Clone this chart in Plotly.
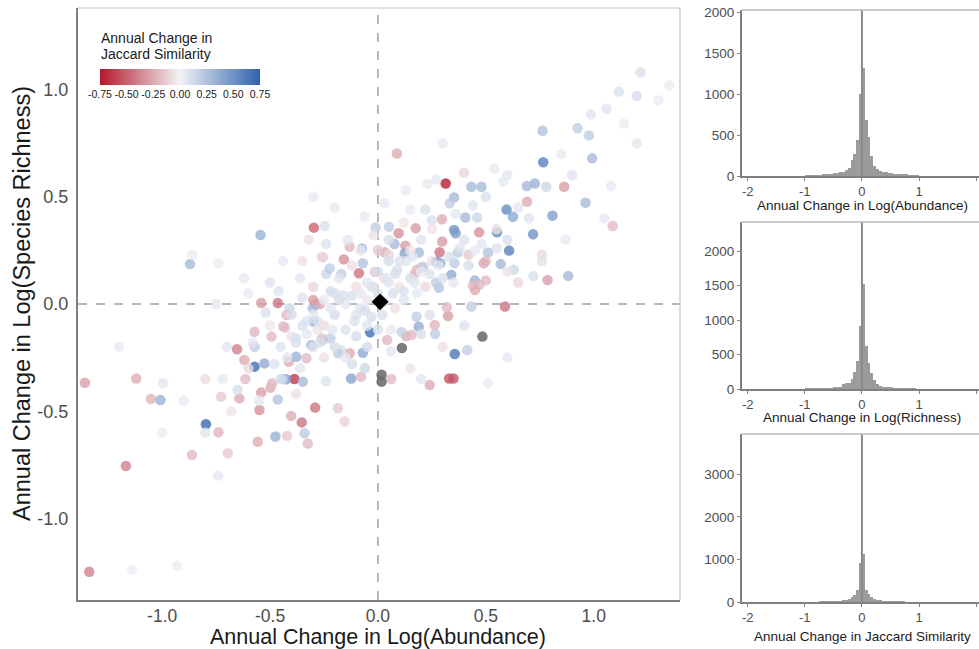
import plotly.graph_objects as go

# ---------------- main scatter data ----------------
abund_change = [
    -1.338, -1.358, -1.168, -1.120, -1.052, -1.008, -0.996, -0.797, -0.862, -0.739,
    -0.696, -0.727, -0.642, -0.719, -0.653, -0.619, -0.572, -0.526, -0.614, -0.572,
    -0.541, -0.549, -0.557, -0.475, -0.464, -0.498, -0.421, -0.402, -0.387, -0.425,
    -0.440, -0.353, -0.291, -0.325, -0.340, -0.348, -0.413, -0.379, -0.309, -0.298,
    -0.186, -0.155, -0.124, -0.078, -0.070, -0.036, -0.170, -0.255, 0.062, 0.043,
    0.189, 0.240, 0.325, 0.330, 0.350, 0.356, 0.414, 0.263, 0.131, 0.110,
    -0.464, -0.541, -0.290, -0.268, 0.433, -0.297, -0.247, -0.544, -0.871, -0.860,
    -0.740, -0.062, -0.011, -0.131, -0.074, -0.158, -0.088, -0.070, -0.255, -0.240,
    -0.170, -0.015, -0.440, -0.620, -0.302, -0.430, -0.410, 0.088, 0.314, 0.399,
    0.230, 0.270, 0.130, 0.030, 0.433, 0.480, 0.353, 0.333, 0.539, 0.580,
    0.763, 0.766, 0.925, 0.978, 0.993, 0.987, 1.060, 1.117, 1.199, 1.217,
    1.350, 1.080, 1.140, 0.863, 0.962, 1.088, 0.727, 0.690, 0.780, 0.596,
    0.626, 0.691, 0.809, 0.719, 0.552, 0.608, 0.469, 0.353, 0.360, 0.405,
    0.460, 0.297, 0.175, 0.096, 0.051, 0.077, 0.127, 0.124, 0.190, 0.298,
    0.286, 0.271, 0.290, 0.340, 0.355, 0.449, 0.440, 0.470, 0.283, 0.031,
    0.170, 0.200, 0.370, 0.420, 0.510, 0.500, 0.490, 0.569, 0.630, 0.650,
    0.720, 0.786, 0.882, 0.589, 0.870, 0.760, 0.760, 0.150, 0.250, 0.510,
    0.156, 0.060, 0.200, 0.265, 0.319, 0.000, 0.050, -0.223, -0.260, 0.210,
    0.180, 0.450, 0.500, 0.270, -0.300, -0.424, -0.571, -0.493, -0.439, -0.331,
    -0.260, -0.220, -0.184, -0.130, -0.060, -0.490, 0.179,
    # faint cloud
    -0.45, -0.40, -0.35, -0.30, -0.25, -0.20, -0.15, -0.10, -0.05, 0.00,
    0.05, 0.10, 0.15, 0.20, 0.25, 0.10, 0.00, -0.05, -0.10, -0.20,
    -0.25, -0.30, -0.35, -0.40, -0.50, -0.15, -0.10, -0.05, 0.02, 0.08,
    0.12, 0.18, 0.22, 0.30, 0.35, 0.05, 0.15, 0.20, -0.20, -0.25,
    -0.30, -0.15, -0.05, 0.00, -0.12, -0.18, -0.08, 0.05, 0.25, 0.40,
    0.45, 0.55, 0.60, 0.65, 0.70, -0.60, -0.65, -0.55, -0.45, -0.38,
    -0.70, -0.80, -0.90, 0.50, 0.60, 0.85, 0.90, 0.30, 0.40, 0.60,
    -0.35, -0.50, -0.60, -0.75, -1.20, -1.00, -0.74, -0.93, -1.14, 0.20,
    0.15, 1.05, 1.20, 1.30, 0.30, -0.20, -0.30, -0.22, -0.12, -0.02,
    -0.33, 0.08, -0.28, -0.18, 0.12, -0.08, 0.03, -0.38, 0.16, -0.03,
    -0.08, -0.03, 0.04, 0.09, 0.13, -0.16, -0.22, -0.28, -0.33, -0.38,
    -0.42, -0.27, -0.21, -0.11, -0.06, 0.03, 0.07, 0.17, 0.24, 0.28,
    0.33, 0.38, 0.42, 0.48, 0.55, 0.36, 0.44, 0.22, -0.14, -0.24,
    -0.36, -0.46, -0.52, -0.58, -0.48, -0.36, -0.24, -0.12, 0.06, 0.24,
    -0.02, 0.12, -0.32, 0.60, -0.68, -0.80,
]
rich_change = [
    -1.248, -0.367, -0.755, -0.347, -0.443, -0.448, -0.368, -0.561, -0.704, -0.598,
    -0.696, -0.432, -0.440, -0.350, -0.211, -0.261, -0.292, -0.277, -0.350, -0.129,
    -0.413, -0.494, -0.642, -0.618, -0.445, -0.390, -0.615, -0.522, -0.350, -0.351,
    -0.350, -0.552, -0.483, -0.650, -0.603, -0.362, -0.269, -0.246, -0.191, -0.082,
    -0.486, -0.548, -0.347, -0.339, -0.227, -0.132, -0.215, -0.168, -0.350, -0.168,
    -0.106, -0.378, -0.056, -0.347, -0.347, -0.233, -0.215, -0.098, -0.149, -0.130,
    0.005, 0.005, 0.000, 0.000, -0.012, 0.356, 0.364, 0.322, 0.186, 0.230,
    0.190, 0.407, 0.357, 0.267, 0.259, 0.208, 0.143, 0.190, 0.218, 0.140,
    0.140, 0.150, 0.200, 0.120, -0.020, -0.110, -0.020, 0.702, 0.562, 0.612,
    0.560, 0.580, 0.530, 0.470, 0.547, 0.547, 0.497, 0.470, 0.630, 0.570,
    0.808, 0.661, 0.819, 0.786, 0.679, 0.884, 0.910, 0.990, 0.970, 1.080,
    1.020, 0.550, 0.840, 0.547, 0.472, 0.364, 0.562, 0.550, 0.547, 0.440,
    0.407, 0.477, 0.412, 0.325, 0.334, 0.249, 0.334, 0.345, 0.330, 0.403,
    0.403, 0.395, 0.353, 0.330, 0.360, 0.280, 0.272, 0.236, 0.240, 0.291,
    0.241, 0.197, 0.190, 0.135, 0.190, 0.109, 0.085, 0.090, 0.076, 0.241,
    0.140, 0.170, 0.240, 0.230, 0.240, 0.200, 0.190, 0.186, 0.160, 0.100,
    0.130, 0.112, 0.131, -0.012, 0.300, 0.200, 0.230, 0.440, 0.390, -0.370,
    -0.145, -0.120, -0.140, -0.140, -0.015, 0.252, 0.230, 0.166, 0.220, 0.174,
    0.160, 0.065, 0.110, 0.100, 0.019, -0.051, -0.199, -0.152, -0.105, -0.253,
    -0.160, -0.160, -0.230, -0.230, -0.300, -0.370, -0.059,
    # faint cloud
    -0.20, -0.15, -0.10, -0.05, -0.10, -0.05, 0.00, -0.05, 0.02, 0.05,
    0.10, 0.08, 0.12, 0.15, 0.20, 0.20, 0.15, 0.10, 0.08, 0.05,
    0.02, 0.08, 0.03, -0.05, -0.10, -0.12, -0.15, -0.10, -0.05, -0.02,
    0.02, 0.05, 0.08, 0.12, 0.10, 0.20, 0.25, 0.30, -0.20, -0.25,
    -0.20, -0.25, -0.20, -0.12, 0.18, 0.12, 0.25, 0.30, 0.35, 0.30,
    0.25, 0.35, 0.30, 0.45, 0.40, -0.30, -0.40, -0.45, -0.35, -0.42,
    -0.20, -0.35, -0.45, 0.50, 0.60, 0.70, 0.60, -0.20, -0.10, -0.25,
    0.20, 0.10, 0.05, 0.00, -0.20, -0.60, -0.80, -1.22, -1.24, -0.35,
    -0.30, 0.40, 0.75, 0.95, 0.75, 0.45, 0.50, 0.06, 0.04, 0.08,
    -0.08, 0.14, -0.12, 0.02, 0.06, -0.02, 0.12, -0.16, 0.22, -0.06,
    0.05, 0.08, 0.12, 0.16, 0.20, 0.04, -0.02, -0.08, -0.14, -0.18,
    -0.25, -0.18, -0.12, -0.08, -0.03, 0.01, 0.05, 0.10, 0.14, 0.18,
    0.22, 0.26, 0.18, 0.28, 0.26, 0.42, 0.46, 0.44, 0.30, 0.28,
    0.12, 0.06, -0.04, -0.18, -0.28, -0.30, -0.36, -0.28, -0.22, -0.05,
    0.32, 0.38, 0.30, 0.15, -0.50, -0.60,
]
jaccard_change = [
    -0.40, -0.30, -0.40, -0.25, -0.22, 0.35, 0.06, 0.72, -0.20, -0.22,
    -0.15, -0.15, -0.25, 0.05, -0.40, -0.25, 0.70, 0.38, -0.20, -0.22,
    -0.30, -0.35, -0.25, 0.35, 0.25, -0.25, -0.15, -0.25, -0.65, 0.45,
    0.20, -0.45, -0.45, -0.20, 0.22, 0.30, -0.25, 0.35, 0.30, 0.38,
    -0.15, -0.12, 0.42, -0.20, 0.40, 0.70, 0.10, 0.20, -0.20, -0.20,
    0.38, -0.25, -0.30, -0.55, -0.55, 0.65, 0.20, -0.22, -0.25, 0.18,
    -0.45, -0.30, -0.28, -0.25, 0.20, -0.50, 0.10, 0.35, 0.30, 0.03,
    0.03, 0.05, 0.20, -0.20, 0.30, -0.35, -0.45, 0.25, -0.15, 0.15,
    0.20, -0.15, 0.05, 0.05, 0.30, -0.15, 0.15, -0.25, -0.75, -0.10,
    0.05, 0.05, 0.05, 0.05, 0.30, 0.30, 0.30, 0.20, 0.05, 0.05,
    0.25, 0.60, 0.20, 0.20, 0.30, 0.08, 0.08, 0.10, 0.12, 0.10,
    0.03, 0.05, 0.03, -0.30, 0.30, -0.20, 0.35, 0.30, 0.15, 0.55,
    0.40, -0.25, 0.45, 0.50, 0.55, 0.60, -0.35, 0.50, 0.45, 0.30,
    0.15, -0.25, -0.30, -0.35, 0.20, 0.30, -0.30, 0.42, 0.30, -0.30,
    -0.45, 0.50, 0.35, 0.40, 0.20, 0.35, -0.20, -0.20, 0.25, -0.25,
    -0.20, -0.15, 0.20, -0.15, 0.25, -0.20, -0.25, 0.30, 0.15, -0.10,
    0.10, -0.30, 0.30, -0.45, 0.05, 0.08, -0.08, 0.05, 0.10, 0.05,
    -0.20, 0.05, 0.10, 0.20, -0.20, -0.15, -0.10, 0.20, -0.10, 0.20,
    -0.20, -0.25, -0.20, 0.20, -0.30, -0.20, 0.20, -0.20, -0.20, -0.20,
    -0.15, 0.20, 0.20, -0.25, 0.15, -0.20, 0.20,
    # faint cloud
    0.08, -0.06, 0.10, 0.05, -0.08, 0.12, 0.06, 0.09, -0.05, 0.10,
    0.07, -0.06, 0.11, 0.05, -0.07, 0.09, 0.12, 0.06, -0.08, 0.10,
    0.05, -0.10, 0.08, 0.11, -0.05, 0.09, 0.12, 0.07, 0.10, -0.06,
    0.08, 0.05, -0.09, 0.10, 0.06, 0.12, -0.05, 0.08, 0.11, -0.07,
    0.09, 0.06, 0.12, 0.10, -0.08, 0.07, 0.05, 0.11, -0.06, 0.09,
    0.05, -0.07, 0.10, 0.06, 0.08, -0.09, 0.11, 0.05, 0.12, -0.06,
    0.07, -0.08, 0.05, 0.10, 0.06, 0.04, 0.08, -0.07, 0.09, 0.05,
    -0.06, 0.08, 0.04, 0.06, 0.05, 0.04, 0.05, 0.03, 0.03, 0.06,
    -0.05, 0.05, 0.06, 0.03, 0.05, 0.04, 0.05, 0.12, 0.10, -0.08,
    0.09, 0.11, -0.06, 0.12, 0.10, 0.08, -0.09, 0.10, 0.07, 0.11,
    0.06, 0.09, 0.07, 0.10, 0.08, 0.10, 0.07, 0.09, 0.06, 0.10,
    0.08, 0.11, 0.06, 0.09, 0.12, 0.08, 0.10, 0.07, 0.09, 0.06,
    0.10, 0.08, 0.11, 0.07, 0.09, 0.06, 0.08, 0.10, 0.07, 0.09,
    0.06, 0.08, 0.10, 0.07, 0.09, 0.06, 0.08, 0.10, 0.07, 0.09,
    -0.06, -0.05, -0.07, -0.06, -0.05, 0.06,
]

# sites with missing Jaccard change (grey)
na_abund = [0.017, 0.017, 0.111, 0.484]
na_rich = [-0.330, -0.362, -0.205, -0.152]

# overall mean
mean_abund = [0.01]
mean_rich = [0.01]

# colour bar ticks
cbar_ticks = [-0.75, -0.5, -0.25, 0, 0.25, 0.5, 0.75]
cbar_labels = ["-0.75", "-0.50", "-0.25", "0.00", "0.25", "0.50", "0.75"]

# ---------------- histogram data (pre-binned, bin width 0.05) ----------------
bin_centers = [-0.975, -0.925, -0.875, -0.825, -0.775, -0.725, -0.675, -0.625, -0.575, -0.525,
               -0.475, -0.425, -0.375, -0.325, -0.275, -0.225, -0.175, -0.125, -0.075, -0.025,
               0.025, 0.075, 0.125, 0.175, 0.225, 0.275, 0.325, 0.375, 0.425, 0.475,
               0.525, 0.575, 0.625, 0.675, 0.725, 0.775, 0.825, 0.875, 0.925, 0.975]
hist_abundance = [2, 3, 4, 6, 8, 12, 16, 20, 25, 30,
                  35, 40, 45, 55, 70, 95, 190, 270, 440, 1000,
                  1320, 680, 480, 250, 120, 80, 65, 55, 45, 40,
                  35, 30, 25, 22, 30, 15, 6, 3, 2, 1]
hist_richness = [1, 1, 2, 3, 4, 5, 6, 8, 10, 12,
                 15, 20, 25, 75, 80, 90, 150, 250, 400, 910,
                 1520, 630, 380, 230, 130, 70, 40, 25, 20, 18,
                 15, 10, 6, 4, 3, 2, 1, 1, 1, 0]
hist_jaccard = [0, 0, 0, 0, 0, 1, 1, 2, 3, 5,
                8, 12, 18, 28, 45, 70, 110, 170, 280, 920,
                1120, 290, 180, 110, 70, 45, 30, 20, 14, 9,
                6, 4, 2, 1, 1, 0, 0, 0, 0, 0]

hist_titles = ["Annual Change in Log(Abundance)", "Annual Change in Log(Richness)",
               "Annual Change in Jaccard Similarity"]

W, H = 979, 649
def px(x):
    return x / W
def py(y):
    return 1 - y / H

FONT = "Liberation Sans, Arial, sans-serif"
TICKC = "#4d4d4d"

fig = go.Figure()

colorscale = [[0.0, "#b2182b"], [0.5, "#f3f3f6"], [1.0, "#2d62ad"]]

fig.add_trace(go.Scatter(
    x=abund_change, y=rich_change, mode="markers", xaxis="x", yaxis="y",
    marker=dict(
        size=10.5, color=jaccard_change, colorscale=colorscale, cmin=-0.75, cmax=0.75,
        opacity=0.78, line=dict(width=0),
        colorbar=dict(
            orientation="h", x=px(90), xanchor="left", y=py(83), yanchor="middle",
            len=180, lenmode="pixels", thickness=16, thicknessmode="pixels",
            xpad=10, outlinewidth=0, ticks="", tickangle=0,
            tickvals=cbar_ticks, ticktext=cbar_labels,
            tickfont=dict(size=10.5, color="#1a1a1a", family=FONT),
            bgcolor="rgba(0,0,0,0)",
        ),
    ),
    showlegend=False, hoverinfo="skip",
))
fig.add_trace(go.Scatter(
    x=na_abund, y=na_rich, mode="markers", xaxis="x", yaxis="y",
    marker=dict(size=10.5, color="#666666", opacity=0.85, line=dict(width=0)),
    showlegend=False, hoverinfo="skip",
))
fig.add_trace(go.Scatter(
    x=mean_abund, y=mean_rich, mode="markers", xaxis="x", yaxis="y",
    marker=dict(size=13, color="black", symbol="diamond", line=dict(width=0)),
    showlegend=False, hoverinfo="skip",
))

hist_data = [hist_abundance, hist_richness, hist_jaccard]
for i, counts in enumerate(hist_data):
    fig.add_trace(go.Bar(
        x=bin_centers, y=counts, width=0.05, xaxis=f"x{i+2}", yaxis=f"y{i+2}",
        marker=dict(color="#9b9b9b", line=dict(width=0)),
        showlegend=False, hoverinfo="skip",
    ))

main_dom_x = [px(78), px(680)]
main_dom_y = [py(600), py(8)]

layout = dict(
    width=W, height=H, margin=dict(l=0, r=0, t=0, b=0),
    paper_bgcolor="white", plot_bgcolor="white",
    font=dict(family=FONT),
    xaxis=dict(domain=main_dom_x, range=[-1.39, 1.40], showgrid=False, zeroline=False,
               showline=True, linecolor="#808080", linewidth=2, ticks="",
               tickvals=[-1, -0.5, 0, 0.5, 1], ticktext=["-1.0", "-0.5", "0.0", "0.5", "1.0"],
               tickfont=dict(size=17.5, color=TICKC), automargin=False, anchor="y",
               ticklabelstandoff=-1),
    yaxis=dict(domain=main_dom_y, range=[-1.38, 1.38], showgrid=False, zeroline=False,
               showline=True, linecolor="#808080", linewidth=2, ticks="",
               tickvals=[-1, -0.5, 0, 0.5, 1], ticktext=["-1.0", "-0.5", "0.0", "0.5", "1.0"],
               tickfont=dict(size=18, color=TICKC), automargin=False, anchor="x",
               ticklabelstandoff=4),
    bargap=0,
)

hist_dom_y = [[py(176), py(10)], [py(389), py(222)], [py(602), py(434)]]
hist_ranges = [[0, 2030], [0, 2425], [0, 3950]]
hist_ticks = [[0, 500, 1000, 1500, 2000], [0, 500, 1000, 1500, 2000], [0, 1000, 2000, 3000]]
hist_title_y = [205, 418, 636]
for i in range(3):
    layout[f"xaxis{i+2}"] = dict(
        domain=[px(742), 1.0], range=[-2.1, 2.05], showgrid=False, zeroline=False,
        showline=True, linecolor="#808080", linewidth=2, ticks="outside", ticklen=3,
        tickcolor="#808080", tickvals=[-2, -1, 0, 1, 2], ticktext=["-2", "-1", "0", "1", "2"],
        tickfont=dict(size=13, color=TICKC), automargin=False, anchor=f"y{i+2}",
        ticklabelstandoff=-1)
    layout[f"yaxis{i+2}"] = dict(
        domain=hist_dom_y[i], range=hist_ranges[i], showgrid=False, zeroline=False,
        showline=True, linecolor="#808080", linewidth=2, ticks="outside", ticklen=3,
        tickcolor="#808080", tickvals=hist_ticks[i],
        tickfont=dict(size=13.5, color=TICKC), automargin=False, anchor=f"x{i+2}")

fig.update_layout(**layout)

shapes = []
shapes.append(dict(type="line", xref="x", yref="y domain", x0=0, x1=0, y0=0, y1=1,
                   line=dict(color="#a0a0a0", width=1.5, dash="dash"), layer="below"))
shapes.append(dict(type="line", xref="x domain", yref="y", x0=0, x1=1, y0=0, y1=0,
                   line=dict(color="#a0a0a0", width=1.5, dash="dash"), layer="below"))
shapes.append(dict(type="line", xref="paper", yref="paper", x0=main_dom_x[0], x1=main_dom_x[1],
                   y0=main_dom_y[1], y1=main_dom_y[1], line=dict(color="#c4c4c4", width=1.2)))
shapes.append(dict(type="line", xref="paper", yref="paper", x0=main_dom_x[1], x1=main_dom_x[1],
                   y0=main_dom_y[0], y1=main_dom_y[1], line=dict(color="#c4c4c4", width=1.2)))
for i in range(3):
    shapes.append(dict(type="line", xref=f"x{i+2}", yref=f"y{i+2} domain", x0=0, x1=0, y0=0, y1=1,
                       line=dict(color="#8a8a8a", width=2)))
    shapes.append(dict(type="line", xref="paper", yref="paper", x0=px(742), x1=1.0,
                       y0=hist_dom_y[i][1], y1=hist_dom_y[i][1], line=dict(color="#bdbdbd", width=1.5)))
fig.update_layout(shapes=shapes)

annotations = [
    dict(text="Annual Change in Log(Abundance)", xref="paper", yref="paper",
         x=px(378), y=py(637), xanchor="center", yanchor="middle", showarrow=False,
         font=dict(size=21.5, color="#1a1a1a")),
    dict(text="Annual Change in Log(Species Richness)", xref="paper", yref="paper",
         x=px(22), y=py(304), xanchor="center", yanchor="middle", showarrow=False,
         textangle=-90, font=dict(size=23.5, color="#1a1a1a")),
    dict(text="Annual Change in", xref="paper", yref="paper",
         x=px(99), y=py(38), xanchor="left", yanchor="middle", showarrow=False,
         font=dict(size=14, color="#1a1a1a")),
    dict(text="Jaccard Similarity", xref="paper", yref="paper",
         x=px(99), y=py(54), xanchor="left", yanchor="middle", showarrow=False,
         font=dict(size=14, color="#1a1a1a")),
]
for i in range(3):
    annotations.append(dict(text=hist_titles[i], xref="paper", yref="paper",
                            x=px(862), y=py(hist_title_y[i]), xanchor="center", yanchor="middle",
                            showarrow=False, font=dict(size=13.5, color="#1a1a1a")))
fig.update_layout(annotations=annotations)

fig.write_html("out.html", config={"displayModeBar": False},
               post_script="document.body.style.margin='0px';")
